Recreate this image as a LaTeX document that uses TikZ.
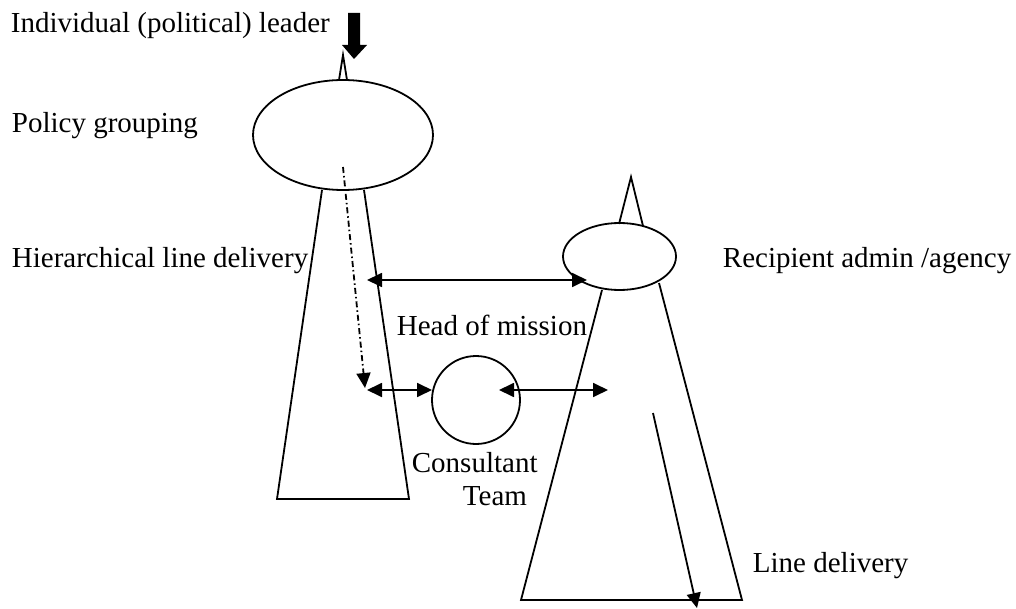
\documentclass[tikz,border=0pt]{standalone}
\usepackage{fontspec}
\setmainfont{Liberation Serif}
\usetikzlibrary{arrows.meta,shapes.geometric}
\begin{document}
\begin{tikzpicture}[x=1pt,y=-1pt, line width=1.8pt,
  lbl/.style={font=\fontsize{29}{34}\selectfont, inner sep=0pt, anchor=base west},
  tipa/.style={-{Triangle[length=15pt,width=14pt]}},
  dtip/.style={{Triangle[length=15pt,width=14pt]}-{Triangle[length=15pt,width=14pt]}},
  dashdot/.style={dash pattern=on 6pt off 3pt on 1.5pt off 3pt}]
\useasboundingbox (0,0) rectangle (1016,609);
% left structure
\coordinate (ltl) at (322,190);
\coordinate (ltr) at (364,190);
\coordinate (lbl) at (277,499);
\coordinate (lbr) at (409,499);
\draw (ltl) -- (lbl) -- (lbr) -- (ltr);
\coordinate (s1a) at (339,80);
\coordinate (s1t) at (343,55);
\coordinate (s1b) at (347,80);
\draw (s1a) -- (s1t) -- (s1b);
\node[draw, ellipse, minimum width=180pt, minimum height=110pt, inner sep=0pt] (pol) at (343,135) {};
\fill (348,13) -- (360,13) -- (360,45) -- (367,45) -- (354,59) -- (342,45) -- (348,45) -- cycle;
% right structure
\coordinate (rtl) at (602,290);
\coordinate (rtr) at (659,283);
\coordinate (rbl) at (521,600);
\coordinate (rbr) at (742,600);
\draw (rtl) -- (rbl) -- (rbr) -- (rtr);
\coordinate (s2a) at (619,224);
\coordinate (s2t) at (631,177);
\coordinate (s2b) at (643,226);
\draw (s2a) -- (s2t) -- (s2b);
\node[draw, ellipse, minimum width=113pt, minimum height=67pt, inner sep=0pt] (rec) at (619.5,256.5) {};
% consultant
\node[draw, circle, minimum size=88pt, inner sep=0pt] (con) at (476,400) {};
% arrows
\coordinate (dd1) at (343,167);
\coordinate (dd2) at (365,388);
\draw[tipa, dashdot] (dd1) -- (dd2);
\coordinate (h1) at (367,280);
\coordinate (h2) at (587,280);
\draw[dtip] (h1) -- (h2);
\coordinate (c1) at (367,390);
\coordinate (c2) at (432,390);
\draw[dtip] (c1) -- (c2);
\coordinate (c3) at (499,390);
\coordinate (c4) at (608,390);
\draw[dtip] (c3) -- (c4);
\coordinate (ld1) at (653,413);
\coordinate (ld2) at (697,608);
\draw[tipa] (ld1) -- (ld2);
% labels
\node[lbl] (t1) at (10,33) {Individual (political) leader};
\node[lbl] (t2) at (11,133) {Policy grouping};
\node[lbl] (t3) at (11,268) {Hierarchical line delivery};
\node[lbl] (t4) at (722,268) {Recipient admin /agency};
\node[lbl] (t5) at (396,335) {Head of mission};
\node[lbl] (t6) at (411,472) {Consultant};
\node[lbl] (t7) at (462,505) {Team};
\node[lbl] (t8) at (752,572) {Line delivery};
\end{tikzpicture}
\end{document}
